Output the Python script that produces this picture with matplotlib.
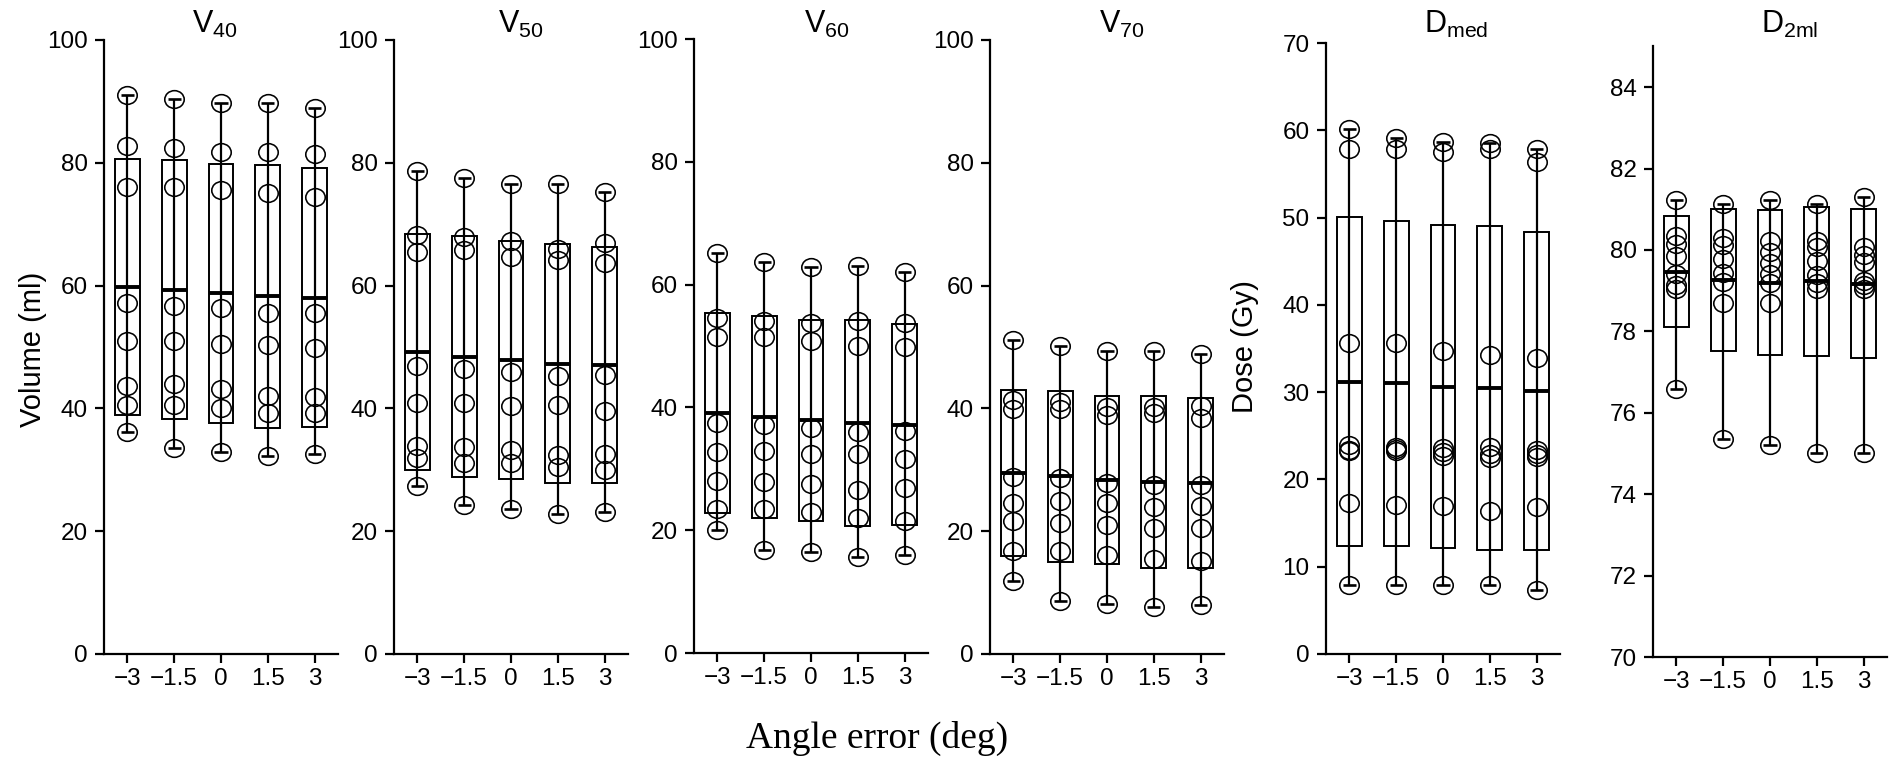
import numpy as np
import matplotlib
matplotlib.use('Agg')
from matplotlib import pyplot as plt
from matplotlib.patches import Rectangle
from matplotlib.path import Path
from matplotlib.transforms import Affine2D

plt.rcParams['font.family'] = ['Liberation Sans', 'DejaVu Sans']
plt.rcParams['mathtext.default'] = 'regular'

angles = [-3, -1.5, 0, 1.5, 3]
angle_labels = ['\u22123', '\u22121.5', '0', '1.5', '3']

# 8 patients at each angle error
v40 = [[91.1, 82.8, 76.0, 57.1, 51.0, 43.7, 40.6, 36.2],
       [90.4, 82.4, 76.0, 56.7, 51.0, 43.9, 40.6, 33.5],
       [89.8, 81.8, 75.5, 56.4, 50.5, 43.1, 40.1, 32.9],
       [89.7, 81.8, 75.0, 55.6, 50.4, 42.0, 39.3, 32.2],
       [88.9, 81.5, 74.5, 55.6, 49.9, 41.8, 39.3, 32.6]]
v50 = [[78.6, 68.2, 65.5, 46.9, 40.9, 33.8, 31.9, 27.3],
       [77.5, 67.9, 65.8, 46.4, 40.9, 33.7, 31.1, 24.2],
       [76.6, 67.3, 64.6, 46.0, 40.4, 33.3, 31.1, 23.6],
       [76.6, 66.0, 64.2, 45.3, 40.6, 32.4, 30.4, 22.8],
       [75.3, 66.9, 63.6, 45.5, 39.6, 32.6, 29.9, 23.1]]
v60 = [[65.2, 54.5, 51.5, 37.5, 32.7, 28.0, 23.4, 20.0],
       [63.6, 54.0, 51.5, 37.2, 32.9, 27.8, 23.4, 16.7],
       [62.9, 53.8, 50.8, 36.7, 32.4, 27.5, 22.9, 16.4],
       [63.1, 54.0, 50.0, 36.0, 32.4, 26.5, 22.0, 15.6],
       [62.0, 53.7, 49.8, 36.2, 31.6, 26.8, 21.5, 16.0]]
v70 = [[51.2, 41.4, 39.9, 28.8, 24.6, 21.7, 16.8, 11.9],
       [50.1, 41.0, 39.9, 28.6, 25.0, 21.3, 16.8, 8.6],
       [49.4, 40.3, 39.0, 27.9, 24.6, 21.0, 16.2, 8.2],
       [49.4, 40.3, 39.2, 27.5, 23.9, 20.6, 15.5, 7.6],
       [48.9, 40.4, 38.5, 27.5, 24.1, 20.5, 15.1, 7.9]]
dmed = [[60.2, 57.9, 35.6, 24.0, 23.4, 23.2, 17.3, 7.9],
        [59.1, 57.9, 35.6, 23.7, 23.5, 23.2, 17.1, 7.9],
        [58.7, 57.5, 34.7, 23.6, 23.1, 22.7, 16.9, 7.9],
        [58.5, 57.8, 34.2, 23.7, 22.9, 22.4, 16.4, 7.9],
        [57.8, 56.4, 33.9, 23.4, 22.9, 22.6, 16.8, 7.3]]
d2ml = [[81.24, 80.34, 80.15, 79.85, 79.41, 79.14, 79.03, 76.59],
        [81.13, 80.29, 80.12, 79.79, 79.44, 79.22, 78.70, 75.35],
        [81.24, 80.23, 79.96, 79.68, 79.41, 79.19, 78.70, 75.20],
        [81.13, 80.23, 80.07, 79.74, 79.38, 79.19, 79.05, 75.02],
        [81.30, 80.07, 79.88, 79.71, 79.25, 79.14, 79.03, 75.02]]

panels = [
    ('V$_{40}$', v40, (0, 100), range(0, 101, 20)),
    ('V$_{50}$', v50, (0, 100), range(0, 101, 20)),
    ('V$_{60}$', v60, (0, 100), range(0, 101, 20)),
    ('V$_{70}$', v70, (0, 100), range(0, 101, 20)),
    ('D$_{med}$', dmed, (0, 70), range(0, 71, 10)),
    ('D$_{2ml}$', d2ml, (70, 85), range(70, 85, 2)),
]

W, H = 1892, 779
# axes boxes in pixels: left, top, bottom
boxes = [(104, 40, 654), (394, 40, 654), (694, 39, 653), (990, 40, 654),
         (1326, 43, 654), (1653, 46.5, 657)]
title_x = [215, 521, 827, 1122, 1456, 1790]
axw = 234

# slightly wide open circle
ellipse = Path.unit_circle().transformed(Affine2D().scale(1.1, 1.0))

fig = plt.figure(figsize=(W / 100, H / 100), dpi=100)

for (title, data, ylim, yticks), (left, top, bot), tx in zip(panels, boxes, title_x):
    ax = fig.add_axes([left / W, (H - bot) / H, axw / W, (bot - top) / H])
    for x, vals in zip(angles, data):
        vals = np.array(vals)
        m = vals.mean()
        sd = vals.std(ddof=1)
        # whisker min-max with caps, box = mean +/- SD, thick line = mean
        ax.vlines(x, vals.min(), vals.max(), color='k', lw=1.6, zorder=2)
        ax.hlines([vals.min(), vals.max()], x - 0.21, x + 0.21, color='k', lw=1.9, zorder=2)
        ax.add_patch(Rectangle((x - 0.4, m - sd), 0.8, 2 * sd, fill=False,
                               ec='k', lw=1.4, zorder=2))
        ax.hlines(m, x - 0.4, x + 0.4, color='k', lw=2.8, zorder=3)
        ax.plot(np.full(len(vals), x), vals, marker=ellipse, ls='none', mfc='none',
                mec='k', ms=14, mew=1.15, zorder=4, clip_on=False)
    ax.set_xlim(-3.75, 3.75)
    ax.set_ylim(*ylim)
    ax.set_yticks(list(yticks))
    ax.set_xticks(angles)
    ax.set_xticklabels(angle_labels)
    for s in ['top', 'right']:
        ax.spines[s].set_visible(False)
    for s in ['left', 'bottom']:
        ax.spines[s].set_linewidth(1.6)
    ax.tick_params(length=6.3, width=1.6, labelsize=17.5)
    ax.tick_params(axis='x', pad=4)
    ax.tick_params(axis='y', pad=5.5)
    fig.text(tx / W, (H - 33) / H, title, ha='center', va='baseline', fontsize=22)

fig.text(33 / W, 1 - 349 / H, 'Volume (ml)', rotation=90, ha='center', va='center', fontsize=21)
fig.text(1245 / W, 1 - 347 / H, 'Dose (Gy)', rotation=90, ha='center', va='center', fontsize=21)
fig.text(877 / W, 1 - 738 / H, 'Angle error (deg)', ha='center', va='center',
         fontsize=27, family='Liberation Serif')

fig.savefig('out.png', dpi=100)
